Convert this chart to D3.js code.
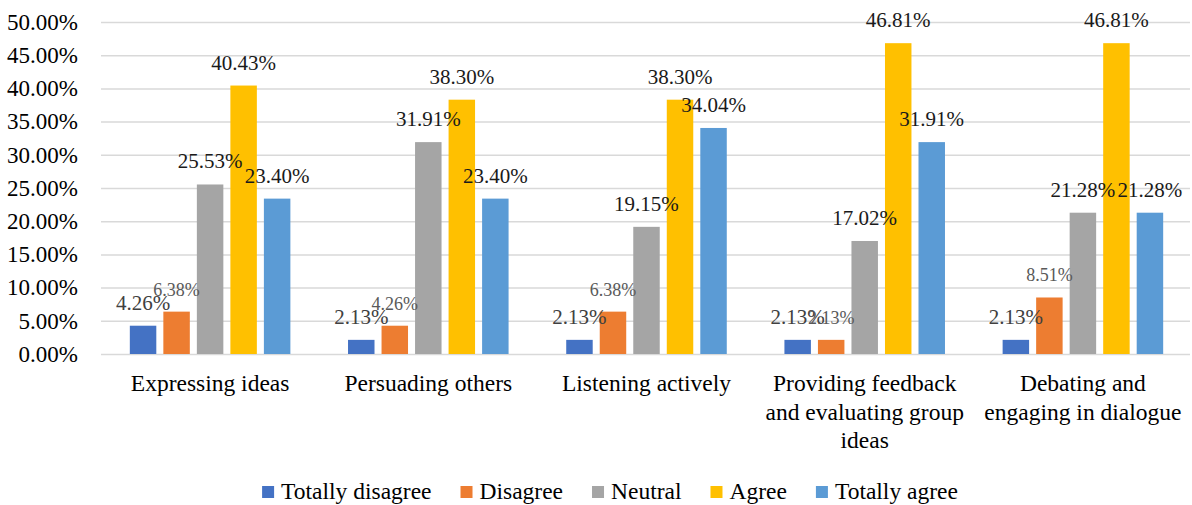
<!DOCTYPE html>
<html>
<head>
<meta charset="utf-8">
<script src="https://cdn.jsdelivr.net/npm/d3@7"></script>
<style>
  body { margin: 0; background: #fff; }
  text { font-family: "Liberation Serif", "Times New Roman", serif; }
</style>
</head>
<body>
<div class="chart"></div>
<script>
// categories (line breaks as in the original axis labels)
var categories = [
    "Expressing ideas",
    "Persuading others",
    "Listening actively",
    "Providing feedback\nand evaluating group\nideas",
    "Debating and\nengaging in dialogue"
];
var series = ["Totally disagree", "Disagree", "Neutral", "Agree", "Totally agree"];

// values in %, one array per series
var totallyDisagree = [4.26, 2.13, 2.13, 2.13, 2.13];
var disagree        = [6.38, 4.26, 6.38, 2.13, 8.51];
var neutral         = [25.53, 31.91, 19.15, 17.02, 21.28];
var agree           = [40.43, 38.30, 38.30, 46.81, 46.81];
var totallyAgree    = [23.40, 23.40, 34.04, 31.91, 21.28];

var yTicks = [0, 5, 10, 15, 20, 25, 30, 35, 40, 45, 50];

var values = [totallyDisagree, disagree, neutral, agree, totallyAgree];
var colors = ["#4472C4", "#ED7D31", "#A5A5A5", "#FFC000", "#5B9BD5"];
// label style per series (Excel had mixed sizes)
var labelSize = [21, 18, 21, 21, 21];
var labelColor = ["#404040", "#595959", "#1a1a1a", "#1a1a1a", "#1a1a1a"];

var W = 1192, H = 505;
var plotLeft = 101, plotRight = 1192, plotTop = 22, plotBottom = 354;

var svg = d3.select(".chart").append("svg")
    .attr("width", W)
    .attr("height", H);

var x0 = d3.scaleBand()
    .domain(categories)
    .range([plotLeft, plotRight])
    .padding(0);

var x1 = d3.scaleBand()
    .domain(series)
    .range([0, x0.bandwidth()])
    .paddingInner(0.21)
    .paddingOuter(0.86);

var y = d3.scaleLinear()
    .domain([0, 50])
    .range([plotBottom, plotTop]);

// gridlines
svg.append("g")
    .attr("class", "grid")
    .attr("transform", "translate(" + plotLeft + ",0)")
    .call(d3.axisLeft(y).tickValues(yTicks).tickSize(-(plotRight - plotLeft - 2)).tickFormat(""))
    .call(g => g.select(".domain").remove())
    .call(g => g.selectAll("line").attr("stroke", "#d9d9d9").attr("stroke-width", 1.5));

// y axis labels
svg.append("g")
    .attr("class", "yAxis")
    .attr("transform", "translate(78,0)")
    .call(d3.axisLeft(y).tickValues(yTicks).tickSize(0).tickPadding(0)
        .tickFormat(d => d.toFixed(2) + "%"))
    .call(g => g.select(".domain").remove())
    .call(g => g.selectAll("text")
        .attr("font-size", 23)
        .attr("fill", "#000")
        .attr("font-family", "Liberation Serif"));

// bars
var groups = svg.selectAll(".group")
    .data(categories)
    .enter().append("g")
    .attr("class", "group")
    .attr("transform", d => "translate(" + x0(d) + ",0)");

groups.selectAll("rect")
    .data((c, i) => series.map((s, j) => ({ s: s, j: j, v: values[j][i] })))
    .enter().append("rect")
    .attr("x", d => x1(d.s))
    .attr("width", x1.bandwidth())
    .attr("y", d => y(d.v))
    .attr("height", d => y(0) - y(d.v))
    .attr("fill", d => colors[d.j]);

// data labels
groups.selectAll(".lbl")
    .data((c, i) => series.map((s, j) => ({ s: s, j: j, v: values[j][i] })))
    .enter().append("text")
    .attr("class", "lbl")
    .attr("x", d => x1(d.s) + x1.bandwidth() / 2)
    .attr("y", d => y(d.v) - 16)
    .attr("text-anchor", "middle")
    .attr("font-size", d => labelSize[d.j])
    .attr("fill", d => labelColor[d.j])
    .text(d => d.v.toFixed(2) + "%");

// category labels
var cat = svg.append("g").attr("class", "xAxis");
categories.forEach(c => {
    var t = cat.append("text")
        .attr("x", x0(c) + x0.bandwidth() / 2)
        .attr("y", 391)
        .attr("text-anchor", "middle")
        .attr("font-size", 23.5)
        .attr("fill", "#000");
    c.split("\n").forEach((line, k) => {
        t.append("tspan")
            .attr("x", x0(c) + x0.bandwidth() / 2)
            .attr("dy", k === 0 ? 0 : 28.5)
            .text(line);
    });
});

// legend
var legend = svg.append("g").attr("class", "legend");
var items = legend.selectAll(".item")
    .data(series)
    .enter().append("g")
    .attr("class", "item");

items.append("rect")
    .attr("width", 12)
    .attr("height", 12)
    .attr("y", 486)
    .attr("fill", (d, i) => colors[i]);

items.append("text")
    .attr("x", 19)
    .attr("y", 499)
    .attr("font-size", 23.5)
    .attr("fill", "#000")
    .text(d => d);

var gap = 29;
var offs = [], cur = 0;
items.each(function () {
    offs.push(cur);
    cur += 19 + this.querySelector("text").getComputedTextLength() + gap;
});
var total = cur - gap;
var start = 610 - total / 2;
items.attr("transform", (d, i) => "translate(" + (start + offs[i]) + ",0)");
</script>
</body>
</html>
